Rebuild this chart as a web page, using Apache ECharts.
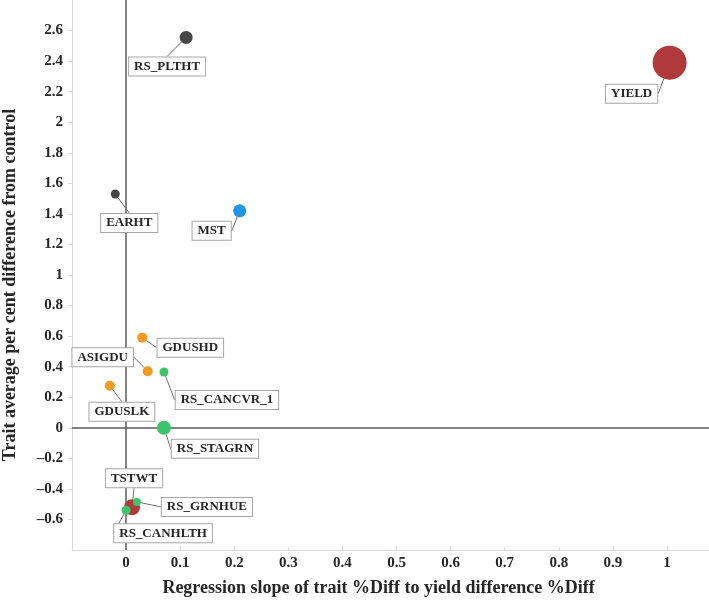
<!DOCTYPE html>
<html>
<head>
<meta charset="utf-8">
<script src="https://cdn.jsdelivr.net/npm/echarts@6/dist/echarts.min.js"></script>
<style>html,body{margin:0;padding:0;background:#fff}#c{width:709px;height:600px}</style>
</head>
<body>
<div id="c"></div>
<script>
// Data
const traits = ['YIELD','RS_PLTHT','EARHT','MST','GDUSHD','ASIGDU','GDUSLK','RS_CANCVR_1','RS_STAGRN','TSTWT','RS_GRNHUE','RS_CANHLTH'];
const slopeX = [1.005, 0.111, -0.02, 0.21, 0.03, 0.04, -0.03, 0.07, 0.07, 0.011, 0.02, 0.0];
const diffY  = [2.39, 2.555, 1.53, 1.42, 0.59, 0.37, 0.275, 0.365, 0.0, -0.52, -0.485, -0.54];
const group  = ['yield','height','height','moisture','gdu','gdu','gdu','sensor','sensor','yield','sensor','sensor'];
const xTicks = [0,0.1,0.2,0.3,0.4,0.5,0.6,0.7,0.8,0.9,1];
const yTicks = [-0.6,-0.4,-0.2,0,0.2,0.4,0.6,0.8,1,1.2,1.4,1.6,1.8,2,2.2,2.4,2.6];

// Styles (kept apart from data)
const groupColor = {yield:'#b03a3a', height:'#474747', moisture:'#2196e8', gdu:'#f39a1f', sensor:'#3cc46a'};
const markerSize = [34, 13, 9, 13, 10, 10, 10, 9, 14, 16, 8, 9];
const labelShift = [[-38,31],[-19,29],[14,29],[-28,20],[48,10],[-45,-14],[12,26],[63,28],[51,21],[2,-29],[70,5],[37,23]];

const serif = '"Liberation Serif","Times New Roman",serif';
const fmt = (ticks) => v => {
  const t = ticks.find(k => Math.abs(k - v) < 1e-9);
  if (t === undefined) return '';
  return t < 0 ? '\u2013' + String(-t) : String(t);
};

const chart = echarts.init(document.getElementById('c'));
chart.setOption({
  animation: false,
  grid: {left: 72, right: -12, top: 0, bottom: 50, containLabel: false, outerBoundsMode: 'none'},
  xAxis: {
    type: 'value', min: -0.1, max: 1.1, interval: 0.1,
    name: 'Regression slope of trait %Diff to yield difference %Diff',
    nameLocation: 'middle', nameGap: 29,
    nameTextStyle: {fontFamily: serif, fontWeight: 'bold', fontSize: 18, color: '#262626', padding:[0,36,0,0]},
    axisLine: {show: true, onZero: false, lineStyle: {color: '#d9d9d9', width: 1}},
    axisTick: {show: true, inside: true, length: 3, lineStyle: {color: '#d9d9d9'}},
    splitLine: {show: false},
    axisLabel: {
      showMinLabel: false, showMaxLabel: false, margin: 6,
      fontFamily: serif, fontWeight: 'bold', fontSize: 15, color: '#262626',
      formatter: fmt(xTicks)
    }
  },
  yAxis: {
    type: 'value', min: -0.8, max: 2.8, interval: 0.2,
    name: 'Trait average per cent difference from control',
    nameLocation: 'middle', nameGap: 53,
    nameTextStyle: {fontFamily: serif, fontWeight: 'bold', fontSize: 18, color: '#262626', padding:[0,20,0,0]},
    axisLine: {show: true, onZero: false, lineStyle: {color: '#d9d9d9', width: 1}},
    axisTick: {show: true, length: 4, lineStyle: {color: '#d9d9d9'}},
    splitLine: {show: false},
    axisLabel: {
      showMinLabel: false, showMaxLabel: false, margin: 9,
      fontFamily: serif, fontWeight: 'bold', fontSize: 15, color: '#262626',
      formatter: fmt(yTicks)
    }
  },
  series: [{
    type: 'scatter',
    data: traits.map((n, i) => ({
      name: n, value: [slopeX[i], diffY[i]],
      symbolSize: markerSize[i],
      itemStyle: {color: groupColor[group[i]], opacity: 1}
    })),
    label: {
      show: true, position: 'inside', formatter: '{b}',
      fontFamily: serif, fontWeight: 'bold', fontSize: 13, color: '#262626',
      backgroundColor: '#fff', borderColor: '#a6a6a6', borderWidth: 1, padding: [3, 5, 2, 5]
    },
    labelLine: {show: true, lineStyle: {color: '#6f6f6f', width: 1}},
    labelLayout: p => ({dx: labelShift[p.dataIndex][0], dy: labelShift[p.dataIndex][1]}),
    markLine: {
      silent: true, symbol: 'none', label: {show: false},
      lineStyle: {color: '#5a5a5a', width: 1.5, type: 'solid'},
      data: [{xAxis: 0}, {yAxis: 0}],
      z: 1
    },
    z: 3
  }]
});
</script>
</body>
</html>
